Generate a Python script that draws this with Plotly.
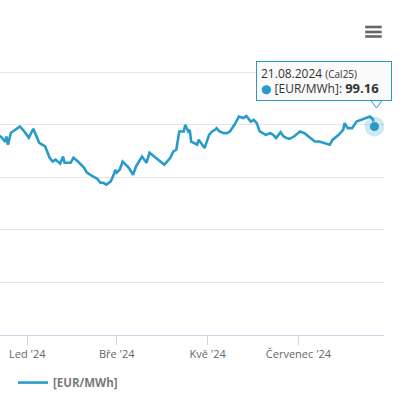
import plotly.graph_objects as go

# ---- data ----
dates = [
    "2023-12-10", "2023-12-14", "2023-12-15", "2023-12-17", "2023-12-18", "2023-12-19",
    "2023-12-21", "2023-12-24", "2023-12-27", "2023-12-30", "2024-01-02", "2024-01-05",
    "2024-01-07", "2024-01-09", "2024-01-13", "2024-01-16", "2024-01-18", "2024-01-20",
    "2024-01-23", "2024-01-25", "2024-01-26", "2024-01-30", "2024-02-01", "2024-02-04",
    "2024-02-08", "2024-02-10", "2024-02-14", "2024-02-17", "2024-02-19", "2024-02-21",
    "2024-02-23", "2024-02-26", "2024-02-28", "2024-02-29", "2024-03-01", "2024-03-03",
    "2024-03-05", "2024-03-09", "2024-03-12", "2024-03-14", "2024-03-18", "2024-03-21",
    "2024-03-23", "2024-03-27", "2024-03-30", "2024-04-02", "2024-04-06", "2024-04-08",
    "2024-04-10", "2024-04-12", "2024-04-15", "2024-04-16", "2024-04-18", "2024-04-19",
    "2024-04-20", "2024-04-24", "2024-04-25", "2024-04-29", "2024-05-02", "2024-05-04",
    "2024-05-06", "2024-05-07", "2024-05-09", "2024-05-12", "2024-05-14", "2024-05-16",
    "2024-05-19", "2024-05-22", "2024-05-25", "2024-05-27", "2024-05-30", "2024-06-01",
    "2024-06-03", "2024-06-05", "2024-06-09", "2024-06-12", "2024-06-14", "2024-06-16",
    "2024-06-19", "2024-06-21", "2024-06-23", "2024-06-25", "2024-06-28", "2024-07-02",
    "2024-07-05", "2024-07-09", "2024-07-12", "2024-07-15", "2024-07-19", "2024-07-22",
    "2024-07-24", "2024-07-28", "2024-07-31", "2024-08-01", "2024-08-03", "2024-08-06",
    "2024-08-09", "2024-08-12", "2024-08-16", "2024-08-18", "2024-08-20", "2024-08-21",
]
prices = [
    96.6, 94.4, 93.8, 91.9, 94.4, 90.5,
    96.2, 97.6, 99.2, 96.8, 93.8, 98.1,
    94.4, 91.4, 89.7, 84.3, 82.5, 83.4,
    81.5, 84.9, 81.9, 81.9, 84.3, 82.5,
    79.6, 77.2, 75.4, 74.3, 72.4, 72.4,
    71.5, 73.1, 76.2, 78.6, 77.2, 78.6,
    82.5, 79.6, 76.2, 80.2, 84.9, 81.9,
    86.7, 84.3, 82.5, 81.0, 84.3, 87.3,
    88.1, 96.8, 96.8, 100.0, 96.8, 97.6,
    92.0, 90.5, 92.9, 88.9, 95.2, 96.8,
    97.6, 98.4, 96.8, 96.0, 96.0, 96.8,
    100.0, 103.9, 103.2, 104.2, 101.5, 102.3,
    100.8, 96.8, 95.2, 96.0, 95.2, 93.7,
    96.5, 94.4, 93.7, 93.3, 94.4, 96.8,
    96.0, 93.7, 92.0, 92.0, 91.3, 90.5,
    92.9, 95.2, 97.6, 100.8, 98.4, 98.4,
    101.5, 102.3, 103.2, 103.9, 102.6, 99.16,
]
series_name = "[EUR/MWh]"
contract = "Cal25"
tick_dates = ["2024-01-01", "2024-03-01", "2024-05-01", "2024-07-01"]
tick_labels = ["Led '24", "Bře '24", "Kvě '24", "Červenec '24"]
x_range = ["2023-12-13 16:00", "2024-08-27 10:00"]
y_range = [0, 150.3]

LINE = "#279cc8"
FONT = "Open Sans, DejaVu Sans, sans-serif"

fig = go.Figure()
fig.add_trace(go.Scatter(
    x=dates, y=prices, mode="lines", name=series_name,
    line=dict(color=LINE, width=2.6), showlegend=True, hoverinfo="skip",
))
# hovered last point with halo
fig.add_trace(go.Scatter(
    x=[dates[-1]], y=[prices[-1]], mode="markers", showlegend=False, hoverinfo="skip",
    marker=dict(size=20, color="rgba(39,156,200,0.22)", line=dict(width=0)),
))
fig.add_trace(go.Scatter(
    x=[dates[-1]], y=[prices[-1]], mode="markers", showlegend=False, hoverinfo="skip",
    marker=dict(size=10, color=LINE, line=dict(width=1, color="rgba(255,255,255,0.6)")),
))

# tooltip
last_date_label = "21.08.2024"
tip_text = (f"{last_date_label} <span style='font-size:10px'>({contract})</span><br>"
            f"<span style='color:{LINE}'>●</span> {series_name}: "
            f"<b><span style='font-size:13px'>{prices[-1]:.2f}</span></b>")
fig.add_annotation(
    x=dates[-1], y=prices[-1], xref="x", yref="y", showarrow=False,
    xanchor="right", yanchor="bottom", xshift=18, yshift=26,
    text=tip_text, align="left", width=126, height=30, valign="middle",
    font=dict(family=FONT, size=12, color="#333333"),
    bgcolor="rgba(250,250,250,0.92)", bordercolor=LINE, borderwidth=1, borderpad=4,
)
# tooltip tail
fig.add_shape(
    type="path", xref="x", yref="y", xsizemode="pixel", ysizemode="pixel",
    xanchor=dates[-1], yanchor=prices[-1],
    path="M -4,26.5 L 2,18.5 L 8,26.5 Z",
    fillcolor="rgba(250,250,250,1)", line=dict(color=LINE, width=1), layer="above",
)

# hamburger export icon
for yy in (0.9747, 0.9589, 0.9446):
    fig.add_shape(type="line", xref="paper", yref="paper",
                  x0=0.951, x1=0.994, y0=yy, y1=yy,
                  line=dict(color="#666666", width=2.6))

fig.update_layout(
    width=405, height=394,
    margin=dict(l=0, r=21, t=19, b=59, autoexpand=False),
    paper_bgcolor="white", plot_bgcolor="white",
    font=dict(family=FONT, color="#666666", size=11),
    showlegend=True,
    legend=dict(orientation="h", xref="container", yref="container",
                x=0.032, xanchor="left", y=0.029, yanchor="middle",
                font=dict(family=FONT, size=11.5, color="#7a7a7a", weight="bold"),
                bgcolor="rgba(0,0,0,0)"),
    hovermode=False,
)
fig.update_xaxes(
    type="date", range=x_range, tickvals=tick_dates, ticktext=tick_labels,
    showgrid=False, showline=True, linecolor="#ccd6eb", linewidth=1,
    ticks="outside", ticklen=9, tickcolor="#ccd6eb",
    tickfont=dict(family=FONT, size=11, color="#666666"),
    zeroline=False, fixedrange=True,
)
fig.update_yaxes(
    range=y_range, dtick=25, showgrid=True, gridcolor="#e6e6e6", gridwidth=1,
    showticklabels=False, zeroline=False, showline=False, fixedrange=True,
)

fig.write_html(
    "out.html",
    config={"displayModeBar": False},
    post_script="document.body.style.margin='0';document.body.style.padding='0';",
)
